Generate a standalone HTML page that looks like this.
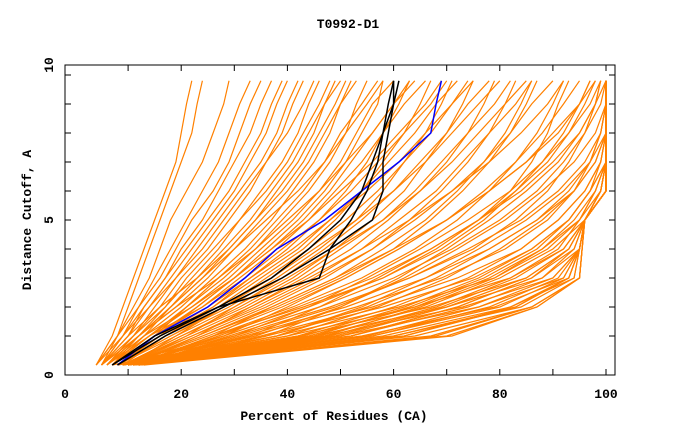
<!DOCTYPE html>
<html><head><meta charset="utf-8"><style>
body{margin:0;background:#fff}
svg text{font-family:"Liberation Mono",monospace;font-weight:bold;font-size:13px}
</style></head><body>
<svg id="chart" width="680" height="440" xmlns="http://www.w3.org/2000/svg">
<text x="348" y="28" text-anchor="middle">T0992-D1</text>
<g id="plot"></g>
<rect x="65" y="65" width="550" height="310" fill="none" stroke="#000" stroke-width="1"/>
<g id="axes"></g>
<text x="334" y="420" text-anchor="middle">Percent of Residues (CA)</text>
<text transform="translate(31,220) rotate(-90)" text-anchor="middle">Distance Cutoff, A</text>
</svg>
<script>
const cutoffs=[0,1,2,3,4,5,6,7,8,9,9.8];
const xTicks=[0,20,40,60,80,100];
const yTicks=[0,5,10];
const orangeModels=[
[4,7,9,11,13,15,17,19,20,21,22],[4,8,10,12,14,16,18,20,22,23,24],[5,8,11,14,16,18,21,24,26,28,29],
[5,9,12,15,18,21,24,27,29,31,33],[4,9,13,17,20,24,27,30,33,35,37],[5,10,14,18,22,26,30,33,36,38,40],
[6,11,16,20,25,29,33,36,39,41,43],[5,11,17,22,27,31,35,39,42,44,46],[6,12,18,24,29,34,38,42,45,47,49],
[7,13,20,26,32,37,41,45,48,50,52],[6,14,21,28,34,39,44,48,51,53,55],[7,15,23,30,36,42,47,51,54,57,58],
[7,16,25,33,40,46,51,55,58,61,63],[8,17,27,35,43,49,54,58,62,65,67],[8,18,29,38,46,53,58,62,66,69,71],
[9,20,31,41,49,56,62,66,70,73,75],[9,21,33,43,52,59,65,70,74,77,79],[10,23,36,47,56,63,69,74,78,81,83],
[10,24,38,50,60,67,73,78,82,85,87],[11,26,41,54,64,72,78,83,87,90,92],[11,28,44,58,69,77,83,88,92,95,97],
[12,30,48,63,75,83,89,93,96,98,99],[12,33,53,69,81,89,94,97,99,100,100],[13,36,58,75,86,93,97,99,100,100,100],
[11,40,64,82,92,96,99,100,100,100,100],[12,45,70,88,95,96,100,100,100,100,100],[12,50,76,92,95,96,100,100,100,100,100],
[12,58,82,94,95,96,100,100,100,100,100],[12,64,86,95,95.5,96,100,100,100,100,100],[12,70,87,95,95.5,96,100,100,100,100,100],
[5,12,19,25,30,35,40,44,47,50,53],[6,13,22,29,35,41,46,50,53,56,60],[7,14,24,31,38,44,49,54,58,62,66],
[8,16,26,34,42,48,54,59,64,68,72],[8,19,30,39,47,54,60,65,70,74,78],[9,22,34,45,54,61,68,73,78,83,86],
[10,25,39,51,61,70,77,83,88,92,95],[11,29,46,60,71,80,87,92,96,99,100],[12,32,51,66,78,87,93,97,99,100,100],
[12,35,56,72,84,91,96,99,100,100,100],[11,38,61,79,89,95,98,100,100,100,100],[11,42,67,85,93,96,99,100,100,100,100],
[5,10,16,23,29,34,39,43,46,49,51],[6,12,19,27,33,38,43,47,50,54,57],[7,14,22,30,37,43,48,52,56,60,64],
[8,18,28,36,44,51,57,62,67,71,75],[9,20,32,42,50,58,64,69,74,79,82],[10,22,35,46,56,64,71,77,82,86,90],
[11,27,42,56,67,76,83,89,93,96,98],[12,31,49,63,74,84,91,96,99,100,100],[11,54,79,93,95,96,100,100,100,100,100],
[12,67,86,95,95.5,96,100,100,100,100,100],[11,60,84,94,95,96,99,100,100,100,100],[10,47,73,90,95,96,100,100,100,100,100],
[4,8,12,16,19,22,26,29,31,33,35],[5,9,14,19,23,27,31,35,38,40,42],[7,12,18,23,28,33,37,41,44,47,50],
[8,15,24,32,39,46,52,57,62,67,70],[10,24,37,49,58,66,72,77,81,84,86],[11,26,43,58,68,76,82,86,89,91,93],
[6,11,15,19,24,28,32,36,40,43,45],[6,12,17,21,26,31,36,40,43,46,48],[5,10,13,17,21,25,29,32,35,37,39],
[7,13,18,24,30,36,42,47,51,55,58],[7,15,21,27,34,40,46,51,56,60,63],[8,16,23,30,37,44,50,56,61,66,69],
[9,17,26,33,41,48,55,61,66,71,74],[10,19,28,37,45,53,60,66,71,76,80],[10,21,30,40,49,58,65,71,76,81,85],
[11,23,33,44,54,63,71,78,84,89,92],[12,26,37,49,60,70,78,85,91,95,97],[10,34,50,62,72,81,88,94,98,100,100],
[10,38,55,68,78,87,94,98,100,100,100],[11,43,62,76,86,93,97,100,100,100,100],[11,48,68,82,91,95,98,100,100,100,100],
[12,52,72,86,94,96,99,100,100,100,100],[12,56,78,91,95,96,100,100,100,100,100],[12,62,83,93,95,96,100,100,100,100,100],
[9,44,64,78,88,95,99,100,100,100,100],[9,46,66,80,90,96,100,100,100,100,100],[10,49,69,83,92,96,100,100,100,100,100],
[10,52,74,88,94,96,100,100,100,100,100],[11,56,80,92,95,96,100,100,100,100,100],[11,60,83,93,95,96,100,100,100,100,100],
[9,40,57,70,80,88,94,98,100,100,100],[9,42,60,74,84,91,96,99,100,100,100],[8,38,54,66,76,85,92,97,100,100,100],
[10,45,63,77,87,93,97,100,100,100,100],[10,50,70,85,93,96,99,100,100,100,100],[11,55,76,90,95,96,100,100,100,100,100],
[12,62,82,93,95,96,100,100,100,100,100],[12,68,86,95,95.5,96,100,100,100,100,100],[13,71,87,95,95.5,96,100,100,100,100,100],
[8,36,50,61,70,78,85,91,95,98,99],[9,47,65,79,88,94,98,100,100,100,100],[10,52,72,86,93,96,99,100,100,100,100],
[9,30,44,55,65,74,82,88,93,97,99],[8,28,40,51,61,70,78,85,90,95,98],[7,33,46,57,67,76,84,90,95,98,100]
];
const blueModel=[8,15,25,32,38,47,54,61,67,68,69];
const blackModel1=[7,15,27,46,48,52,55,57,58,59,60];
const blackModel2=[8,17,28,39,48,56,58,58,59,60,60];
const blackModel3=[7,16,27,37,44,50,54,56,58,60,61];

const X=v=>75+v*5.31, Y=v=>365-v*29;
const NS='http://www.w3.org/2000/svg';
const plot=document.getElementById('plot'), axes=document.getElementById('axes');
function line(xs,color,w,name){
  const p=document.createElementNS(NS,'polyline');
  p.setAttribute('points',xs.map((x,i)=>X(x).toFixed(1)+','+Y(cutoffs[i]).toFixed(1)).join(' '));
  p.setAttribute('fill','none');p.setAttribute('stroke',color);p.setAttribute('stroke-width',w);
  
  
  plot.appendChild(p);
}
orangeModels.forEach(m=>line(m,'#ff8000',1.2,'model-line'));
line(blueModel,'#0000ff',1.5,'blue-model-line');
line(blackModel1,'#000',1.5,'black-model-line-1');
line(blackModel2,'#000',1.5,'black-model-line-2');
line(blackModel3,'#000',1.5,'black-model-line-3');
function add(tag,attrs,txt,name){const e=document.createElementNS(NS,tag);for(const k in attrs)e.setAttribute(k,attrs[k]);if(txt!=null)e.textContent=txt;
  
  
  axes.appendChild(e);}
for(let v=10;v<=100;v+=10){add('line',{x1:X(v),x2:X(v),y1:375,y2:369,stroke:'#000'},null,'x-tick');add('line',{x1:X(v),x2:X(v),y1:65,y2:71,stroke:'#000'},null,'x-tick-top');}
xTicks.forEach(v=>add('text',{x:v===0?65:X(v),y:398,'text-anchor':'middle'},String(v),'x-tick-label'));
for(let v=1;v<=10;v++){add('line',{x1:65,x2:71,y1:Y(v),y2:Y(v),stroke:'#000'},null,'y-tick');add('line',{x1:615,x2:609,y1:Y(v),y2:Y(v),stroke:'#000'},null,'y-tick-right');}
yTicks.forEach(v=>add('text',{x:0,y:0,transform:`translate(53,${v===10?65:(v===0?375:Y(v))}) rotate(-90)`,'text-anchor':'middle'},String(v),'y-tick-label'));
</script>
</body></html>
